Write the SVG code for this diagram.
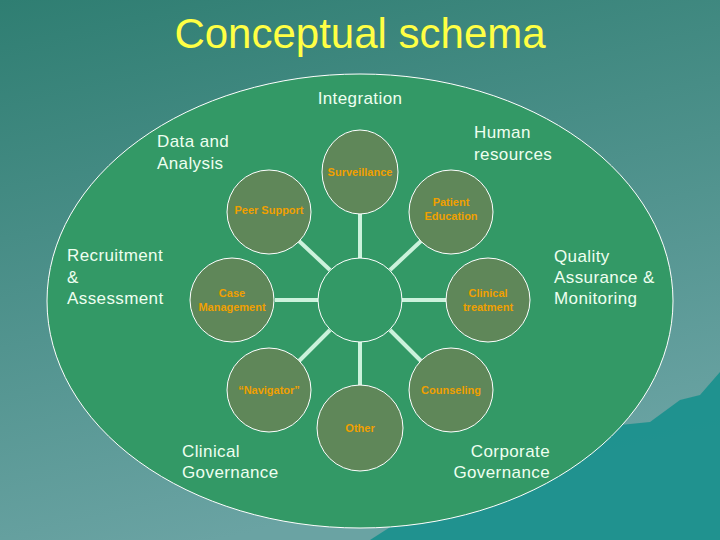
<svg xmlns="http://www.w3.org/2000/svg" width="720" height="540" viewBox="0 0 720 540">
<defs>
<linearGradient id="bg" x1="0" y1="0" x2="0.3" y2="1"><stop offset="0" stop-color="#2f7e72"/><stop offset="1" stop-color="#6aa3a3"/></linearGradient>
<style>
.n{fill:#5f8759;stroke:#ffffff;stroke-width:1}
.t{font-family:"Liberation Sans",Arial,sans-serif;font-size:11px;font-weight:bold;fill:#f0a000;text-anchor:middle}
.w{font-family:"Liberation Sans",Arial,sans-serif;font-size:17px;fill:#eefff0;letter-spacing:0.4px}
.c line{stroke:#ccf2dc;stroke-width:4}
</style>
</defs>
<rect width="720" height="540" fill="url(#bg)"/>
<path d="M370 540 L420 508 L470 498 L520 478 L560 470 L585 445 L620 425 L650 422 L680 400 L700 395 L720 372 L720 540 Z" fill="#138f8c" opacity="0.85"/>
<text x="360" y="48" font-family="'Liberation Sans',Arial,sans-serif" font-size="42" fill="#ffff44" text-anchor="middle">Conceptual schema</text>
<ellipse cx="360" cy="301" rx="313" ry="227" fill="#339966" stroke="#ffffff" stroke-width="1"/>
<g class="c" id="connectors">
<line x1="360" y1="214" x2="360" y2="258"/>
<line x1="330" y1="270" x2="299" y2="241"/>
<line x1="390" y1="270" x2="421" y2="241"/>
<line x1="275" y1="300" x2="318" y2="300"/>
<line x1="402" y1="300" x2="446" y2="300"/>
<line x1="330" y1="330" x2="299" y2="361"/>
<line x1="390" y1="330" x2="421" y2="361"/>
<line x1="360" y1="342" x2="360" y2="385"/>
</g>
<g id="center"><circle cx="360" cy="300" r="42" fill="#339966" stroke="#ffffff" stroke-width="1"/></g>
<g id="surveillance"><ellipse class="n" cx="360" cy="172" rx="38" ry="42"/><text class="t" x="360" y="176">Surveillance</text></g>
<g id="peer"><circle class="n" cx="269" cy="212" r="42"/><text class="t" x="269" y="214">Peer Support</text></g>
<g id="patient"><circle class="n" cx="451" cy="212" r="42"/><text class="t" x="451" y="206">Patient</text><text class="t" x="451" y="220">Education</text></g>
<g id="case"><circle class="n" cx="232" cy="300" r="42"/><text class="t" x="232" y="297">Case</text><text class="t" x="232" y="311">Management</text></g>
<g id="clinical"><circle class="n" cx="488" cy="300" r="42"/><text class="t" x="488" y="297">Clinical</text><text class="t" x="488" y="311">treatment</text></g>
<g id="navigator"><circle class="n" cx="269" cy="390" r="42"/><text class="t" x="269" y="394">“Navigator”</text></g>
<g id="counseling"><circle class="n" cx="451" cy="390" r="42"/><text class="t" x="451" y="394">Counseling</text></g>
<g id="other"><circle class="n" cx="360" cy="428" r="43"/><text class="t" x="360" y="432">Other</text></g>
<g id="labels">
<text class="w" x="360" y="104" text-anchor="middle">Integration</text>
<text class="w" x="157" y="147">Data and</text><text class="w" x="157" y="169">Analysis</text>
<text class="w" x="474" y="138">Human</text><text class="w" x="474" y="160">resources</text>
<text class="w" x="67" y="261">Recruitment</text><text class="w" x="67" y="283">&amp;</text><text class="w" x="67" y="304">Assessment</text>
<text class="w" x="554" y="262">Quality</text><text class="w" x="554" y="283">Assurance &amp;</text><text class="w" x="554" y="304">Monitoring</text>
<text class="w" x="182" y="457">Clinical</text><text class="w" x="182" y="478">Governance</text>
<text class="w" x="550" y="457" text-anchor="end">Corporate</text><text class="w" x="550" y="478" text-anchor="end">Governance</text>
</g>
</svg>
